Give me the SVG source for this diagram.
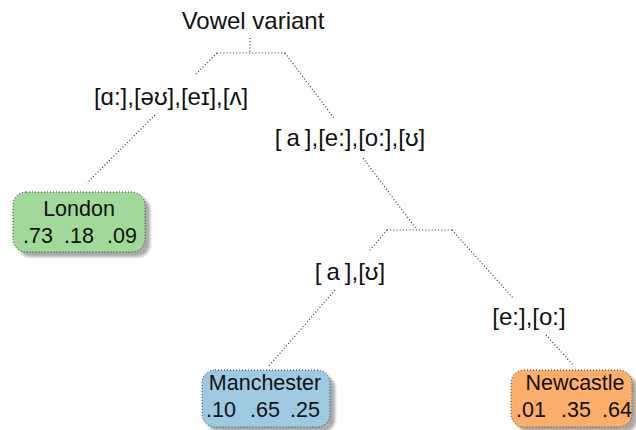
<svg xmlns="http://www.w3.org/2000/svg" width="636" height="430" viewBox="0 0 636 430">
  <defs>
    <filter id="shadow" x="-20%" y="-20%" width="140%" height="140%">
      <feGaussianBlur stdDeviation="1.5"/>
    </filter>
    <style>
      text { font-family: "Liberation Sans", Arial, sans-serif; fill: #111; }
      .title { font-size: 24px; }
      .label { font-size: 24px; }
      .name { font-size: 21.5px; }
      .edge { fill: none; stroke: #333; stroke-width: 1.2; stroke-dasharray: 1 2.2; }
      .box { stroke: #333; stroke-width: 1; stroke-dasharray: 1 2; }
      .shade { fill: #aaaaaa; filter: url(#shadow); }
    </style>
  </defs>
  <rect width="636" height="430" fill="#fff"/>

  <!-- split heading -->
  <g id="root">
    <text class="title" x="253" y="29" text-anchor="middle">Vowel variant</text>
  </g>

  <!-- tree connectors -->
  <g id="connectors">
    <path class="edge" d="M250,38 V53 M217,53 H285"/>
    <path class="edge" d="M217,53 L195,75 M155,115 L87,183"/>
    <path class="edge" d="M285,53 L334,118 M363,158 L417,230"/>
    <path class="edge" d="M387,230 H452"/>
    <path class="edge" d="M387,230 L370,250 M335,290 L268,367"/>
    <path class="edge" d="M452,230 L513,298 M546,335 L574,366"/>
  </g>

  <!-- branch labels -->
  <g id="labels">
    <text class="label" x="171" y="105" text-anchor="middle">[ɑ:],[əʊ],[eɪ],[ʌ]</text>
    <text class="label" x="350" y="146" text-anchor="middle">[<tspan dx="5">a</tspan><tspan dx="5">]</tspan>,[e:],[o:],[ʊ]</text>
    <text class="label" x="350" y="280" text-anchor="middle">[<tspan dx="5">a</tspan><tspan dx="5">]</tspan>,[ʊ]</text>
    <text class="label" x="529" y="325" text-anchor="middle">[e:],[o:]</text>
  </g>

  <!-- leaf: London -->
  <g id="london">
    <rect class="shade" x="18" y="197" width="132" height="60" rx="13"/>
    <rect class="box" x="13" y="192" width="132" height="60" rx="13" fill="#a1d99b"/>
    <text class="name" x="79" y="216" text-anchor="middle">London</text>
    <text class="name" y="243" text-anchor="middle"><tspan x="38">.73</tspan><tspan x="79">.18</tspan><tspan x="122">.09</tspan></text>
  </g>

  <!-- leaf: Manchester -->
  <g id="manchester">
    <rect class="shade" x="207" y="375" width="128" height="57" rx="13"/>
    <rect class="box" x="202" y="370" width="128" height="57" rx="13" fill="#9ecae1"/>
    <text class="name" x="265" y="390" text-anchor="middle">Manchester</text>
    <text class="name" y="417" text-anchor="middle"><tspan x="221">.10</tspan><tspan x="265">.65</tspan><tspan x="305">.25</tspan></text>
  </g>

  <!-- leaf: Newcastle -->
  <g id="newcastle">
    <rect class="shade" x="516" y="375" width="121" height="57" rx="13"/>
    <rect class="box" x="511" y="370" width="121" height="57" rx="13" fill="#fdae6b"/>
    <text class="name" x="575" y="390" text-anchor="middle">Newcastle</text>
    <text class="name" y="417" text-anchor="middle"><tspan x="531">.01</tspan><tspan x="576">.35</tspan><tspan x="617">.64</tspan></text>
  </g>
</svg>
